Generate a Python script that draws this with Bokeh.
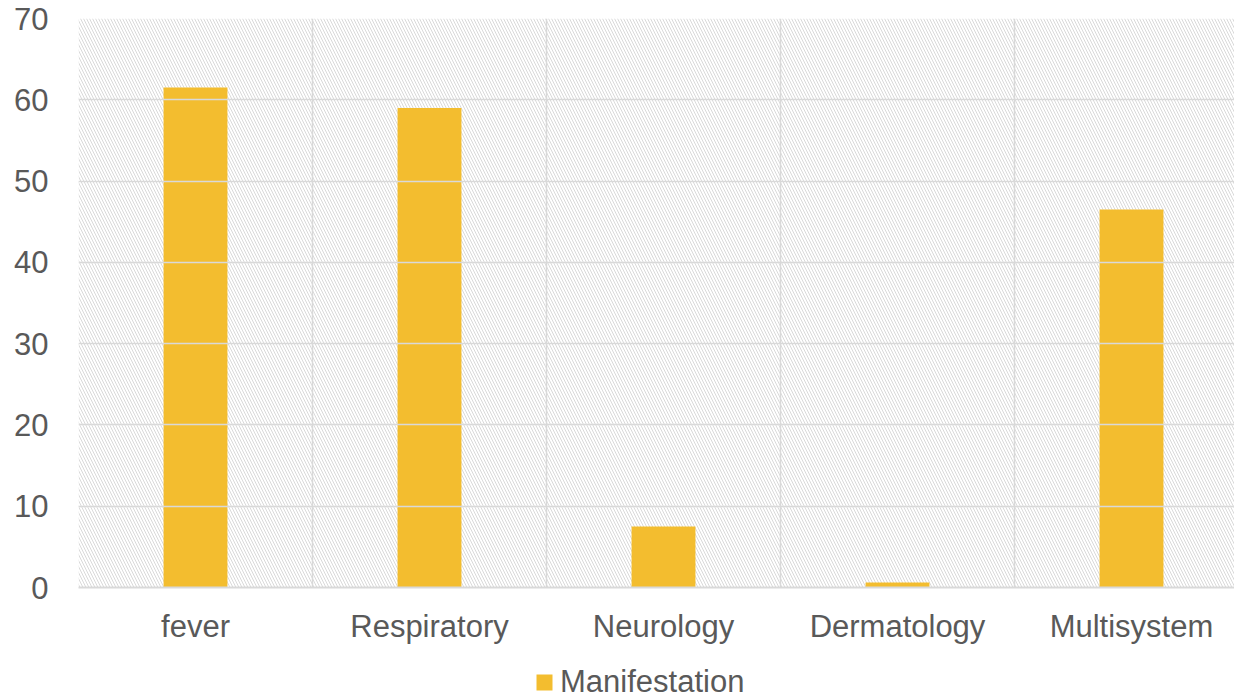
from bokeh.plotting import figure
from bokeh.layouts import column
from bokeh.models import (FixedTicker, BoxAnnotation, Legend, LegendItem, ColumnDataSource,
                          Range1d)
from bokeh.embed import file_html
from bokeh.resources import INLINE

categories = ["fever", "Respiratory", "Neurology", "Dermatology", "Multisystem"]
values = [61.5, 59.0, 7.5, 0.6, 46.5]
y_ticks = [0, 10, 20, 30, 40, 50, 60, 70]
series_name = "Manifestation"

BAR = "#F3BD2F"
TXT = "#595959"
GRID = "#D9D9D9"
FONT = "Liberation Sans"
FS = "31px"

centers = [i + 0.5 for i in range(len(categories))]
bounds = list(range(len(categories) + 1))
src = ColumnDataSource(dict(x=centers, top=values, cat=categories))

W = 1234
MAIN_H, LEG_H = 648, 52
LEFT, TOP, BOTTOM = 78, 18, 61
frame_w = W - LEFT

p = figure(width=W, height=MAIN_H, output_backend="svg", toolbar_location=None,
           x_range=Range1d(0, frame_w / 234), y_range=Range1d(0, 70),
           min_border_left=LEFT, min_border_right=0, min_border_top=TOP,
           min_border_bottom=BOTTOM)
p.outline_line_color = None
p.background_fill_color = "white"
p.border_fill_color = "white"

hatch = BoxAnnotation(fill_color=None, fill_alpha=0, line_color=None,
                      hatch_pattern="\\", hatch_color="#D9D9D9", hatch_weight=1,
                      hatch_scale=6, level="underlay")
p.add_layout(hatch)

r = p.vbar(x="x", top="top", width=0.273, source=src, color=BAR, line_color=None)

# grids
p.xgrid.ticker = FixedTicker(ticks=bounds)
p.xgrid.grid_line_color = GRID
p.xgrid.grid_line_width = 1.5
p.xgrid.level = "glyph"
p.ygrid.ticker = FixedTicker(ticks=y_ticks)
p.ygrid.grid_line_color = GRID
p.ygrid.grid_line_width = 1.5
p.ygrid.level = "glyph"

# x axis
xa = p.xaxis[0]
xa.ticker = FixedTicker(ticks=centers)
xa.major_label_overrides = {c: lab for c, lab in zip(centers, categories)}
xa.major_tick_line_color = None
xa.major_tick_in = 0
xa.major_tick_out = 0
xa.minor_tick_line_color = None
xa.axis_line_color = GRID
xa.axis_line_width = 2
xa.major_label_text_font = FONT
xa.major_label_text_font_size = FS
xa.major_label_text_color = TXT
xa.major_label_standoff = 21

# y axis
ya = p.yaxis[0]
ya.ticker = FixedTicker(ticks=y_ticks)
ya.major_tick_line_color = None
ya.major_tick_in = 0
ya.major_tick_out = 0
ya.minor_tick_line_color = None
ya.axis_line_color = None
ya.major_label_text_font = FONT
ya.major_label_text_font_size = FS
ya.major_label_text_color = TXT
ya.major_label_standoff = 30

# legend strip below the chart (its bars lie outside its visible y range)
lg = figure(width=W, height=LEG_H, output_backend="svg", toolbar_location=None,
            x_range=Range1d(0, frame_w / 234), y_range=Range1d(1000, 1001),
            x_axis_type=None, y_axis_type=None,
            min_border_left=0, min_border_right=0, min_border_top=0, min_border_bottom=0)
lg.outline_line_color = None
lg.xgrid.visible = False
lg.ygrid.visible = False
swatch = lg.vbar(x="x", top="top", width=0.273, source=src, color=BAR, line_color=None)
legend = Legend(items=[LegendItem(label=series_name, renderers=[swatch])],
                location=(456, 0), orientation="horizontal",
                label_text_font=FONT, label_text_font_size=FS, label_text_color=TXT,
                glyph_width=20, glyph_height=20, label_standoff=6,
                border_line_color=None, background_fill_alpha=0,
                padding=0, margin=0)
lg.add_layout(legend)

layout = column(p, lg, spacing=0)
open("out.html", "w").write(file_html(layout, INLINE))
